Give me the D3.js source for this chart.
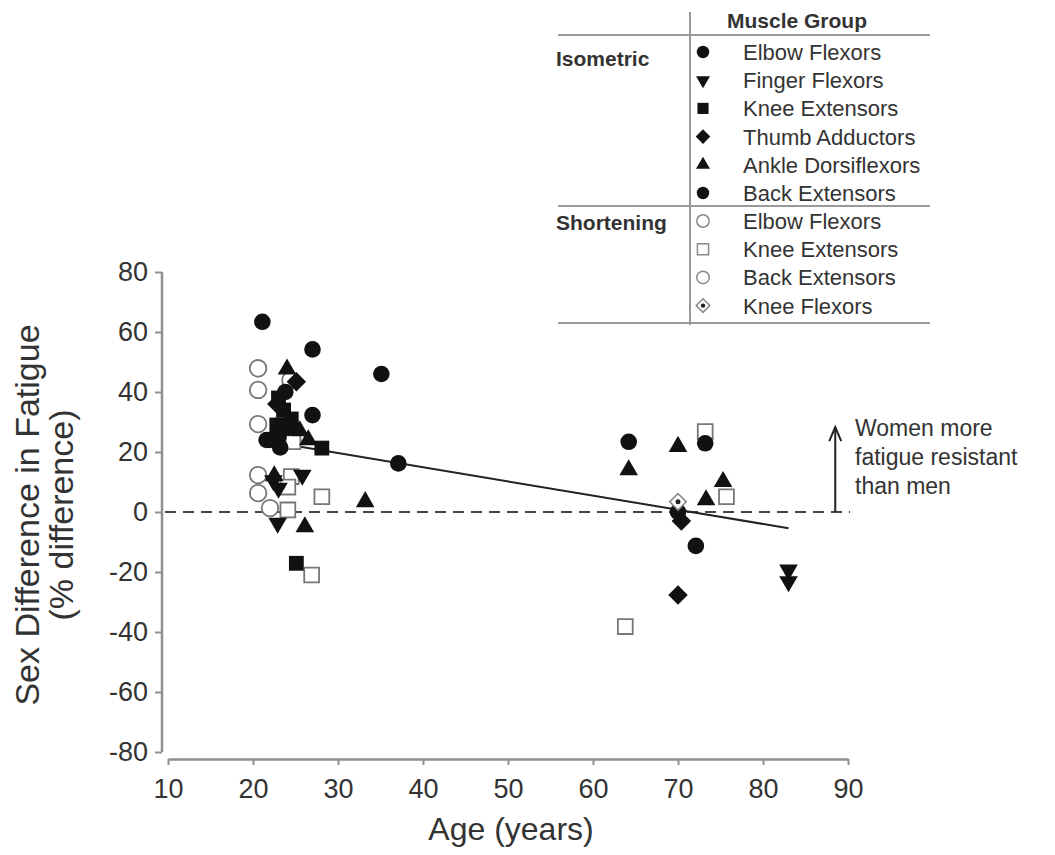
<!DOCTYPE html>
<html><head><meta charset="utf-8">
<script src="https://cdn.jsdelivr.net/npm/d3@7"></script>
<style>html,body{margin:0;padding:0;background:#fff;} svg{display:block;font-family:"Liberation Sans",Arial,sans-serif;}</style>
</head><body>
<svg id="c" width="1055" height="855"></svg>
<script>
// ---- data (age in years, sex difference in fatigue %) ----
const xTicks = [10,20,30,40,50,60,70,80,90];
const yTicks = [-80,-60,-40,-20,0,20,40,60,80];

const isoElbowAge = [21.1,27.0,35.1,27.0,37.1,22.0,23.2,64.2,73.2,72.1,70.0];
const isoElbowVal = [63.4,54.2,46.0,32.3,16.2,24.0,21.5,23.4,22.9,-11.3,0.0];
const isoFingerAge = [22.4,25.8,22.9,23.0,83.0,83.0];
const isoFingerVal = [10.5,12.3,-3.7,8.0,-19.3,-23.2];
const isoKneeAge = [23.0,23.6,22.8,24.5,28.1,25.1];
const isoKneeVal = [38.0,34.0,29.0,31.0,21.3,-17.1];
const isoThumbAge = [25.1,22.8,70.4,70.0];
const isoThumbVal = [43.4,36.0,-3.0,-27.7];
const isoAnkleAge = [24.0,25.5,26.5,22.5,33.2,26.1,64.2,70.0,73.3,75.3];
const isoAnkleVal = [47.6,27.0,24.0,12.0,3.4,-5.0,14.0,21.8,4.0,10.1];
const isoBackAge = [23.0,24.2,21.6,23.8];
const isoBackVal = [25.0,28.0,24.0,40.0];
const shElbowAge = [20.6,20.6,20.6,24.4];
const shElbowVal = [47.9,40.7,29.3,44.0];
const shKneeAge = [23.6,24.7,24.5,24.1,28.1,24.1,26.9,73.2,75.7,63.8];
const shKneeVal = [29.0,23.4,11.8,8.3,5.1,0.7,-21.0,26.8,5.1,-38.2];
const shBackAge = [20.6,20.6,22.0];
const shBackVal = [12.3,6.3,1.3];
const shKneeFlexAge = [70.0];
const shKneeFlexVal = [3.4];

const fitAge = [21, 83];
const fitVal = [23.9, -5.4];

const legendIso = ["Elbow Flexors","Finger Flexors","Knee Extensors","Thumb Adductors","Ankle Dorsiflexors","Back Extensors"];
const legendSh = ["Elbow Flexors","Knee Extensors","Back Extensors","Knee Flexors"];
const annotation = ["Women more","fatigue resistant","than men"];
const arrowAge = 88.5, arrowTop = 28.3;

// ---- drawing ----
const svg = d3.select("#c");
const x = d3.scaleLinear().domain([10,90]).range([168,848]);
const y = d3.scaleLinear().domain([-80,80]).range([752,272]);
const axisCol = "#8f8f8f";

// axes
const yAxis = svg.append("g").attr("transform","translate(162,0)")
  .call(d3.axisLeft(y).tickValues(yTicks).tickSize(7).tickPadding(7).tickFormat(d=>String(d)));
const xAxis = svg.append("g").attr("transform","translate(0,759)")
  .call(d3.axisBottom(x).tickValues(xTicks).tickSize(6).tickPadding(9).tickSizeOuter(0));
[yAxis,xAxis].forEach(a=>{
  a.select(".domain").attr("stroke",axisCol).attr("stroke-width",2.5);
  a.selectAll(".tick line").attr("stroke",axisCol).attr("stroke-width",2);
  a.selectAll(".tick text").attr("fill","#333").attr("font-size",27).attr("font-family","Liberation Sans, Arial");
});
yAxis.select(".domain").attr("d","M0,"+y(80)+"V"+y(-80));
xAxis.selectAll(".tick text").attr("dy","0.9em");

// axis titles
svg.append("text").attr("x",511).attr("y",840).attr("text-anchor","middle")
  .attr("font-size",32).attr("fill","#333").text("Age (years)");
const yt = svg.append("text").attr("transform","translate(39,515) rotate(-90)")
  .attr("text-anchor","middle").attr("font-size",34).attr("fill","#333");
yt.append("tspan").attr("x",0).attr("y",0).text("Sex Difference in Fatigue");
yt.append("tspan").attr("x",0).attr("y",34).text("(% difference)");

// zero line
svg.append("line").attr("x1",165).attr("x2",850).attr("y1",y(0)).attr("y2",y(0))
  .attr("stroke","#444").attr("stroke-width",2).attr("stroke-dasharray","11,7");

// regression line
svg.append("line").attr("x1",x(fitAge[0])).attr("y1",y(fitVal[0]))
  .attr("x2",x(fitAge[1])).attr("y2",y(fitVal[1])).attr("stroke","#222").attr("stroke-width",2);

// marker generators
function shape(g, type, cx, cy, s){
  const k = s||1;
  let p;
  if(type==="circle") p = g.append("circle").attr("cx",cx).attr("cy",cy).attr("r",8.3*k);
  else if(type==="square") p = g.append("path").attr("d",d3.symbol(d3.symbolSquare,220*k*k)()).attr("transform",`translate(${cx},${cy})`);
  else if(type==="tri") p = g.append("path").attr("d",d3.symbol(d3.symbolTriangle,150*k*k)()).attr("transform",`translate(${cx},${cy})`);
  else if(type==="itri") p = g.append("path").attr("d",d3.symbol(d3.symbolTriangle,150*k*k)()).attr("transform",`translate(${cx},${cy}) rotate(180)`);
  else if(type==="diamond") p = g.append("path").attr("d",d3.symbol(d3.symbolSquare,190*k*k)()).attr("transform",`translate(${cx},${cy}) rotate(45)`);
  return p;
}
const series = [
  {age:shKneeAge,val:shKneeVal,type:"square",open:true},
  {age:shElbowAge,val:shElbowVal,type:"circle",open:true},
  {age:shBackAge,val:shBackVal,type:"circle",open:true},
  {age:isoAnkleAge,val:isoAnkleVal,type:"tri"},
  {age:isoFingerAge,val:isoFingerVal,type:"itri"},
  {age:isoThumbAge,val:isoThumbVal,type:"diamond"},
  {age:isoKneeAge,val:isoKneeVal,type:"square"},
  {age:isoBackAge,val:isoBackVal,type:"circle"},
  {age:isoElbowAge,val:isoElbowVal,type:"circle"},
];
const gp = svg.append("g");
series.forEach(s=>{
  s.age.forEach((a,i)=>{
    const p = shape(gp, s.type, x(a), y(s.val[i]));
    if(s.open) p.attr("fill","#fff").attr("stroke","#777").attr("stroke-width",1.8);
    else p.attr("fill","#111");
  });
});
// knee flexors (open diamond with dot)
shKneeFlexAge.forEach((a,i)=>{
  shape(gp,"diamond",x(a),y(shKneeFlexVal[i]),0.85).attr("fill","#fff").attr("stroke","#888").attr("stroke-width",1.6);
  gp.append("circle").attr("cx",x(a)).attr("cy",y(shKneeFlexVal[i])).attr("r",2.5).attr("fill","#222");
});

// arrow + annotation
const ax = x(arrowAge);
svg.append("line").attr("x1",ax).attr("x2",ax).attr("y1",y(0)).attr("y2",y(arrowTop))
  .attr("stroke","#222").attr("stroke-width",2);
svg.append("path").attr("d",`M${ax-6},${y(arrowTop)+14}L${ax},${y(arrowTop)}L${ax+6},${y(arrowTop)+14}`)
  .attr("fill","none").attr("stroke","#222").attr("stroke-width",2);
annotation.forEach((t,i)=>svg.append("text").attr("x",855).attr("y",436+i*29)
  .attr("font-size",23).attr("fill","#333").text(t));

// legend
const lg = svg.append("g");
const lc = "#999";
lg.append("line").attr("x1",690).attr("x2",690).attr("y1",12).attr("y2",325).attr("stroke",lc).attr("stroke-width",2);
[35,206,323].forEach(v=>lg.append("line").attr("x1",558).attr("x2",930).attr("y1",v).attr("y2",v).attr("stroke",lc).attr("stroke-width",2));
lg.append("text").attr("x",797).attr("y",28).attr("text-anchor","middle").attr("font-size",21).attr("font-weight","bold").attr("fill","#333").text("Muscle Group");
lg.append("text").attr("x",556).attr("y",66).attr("font-size",21).attr("font-weight","bold").attr("fill","#333").text("Isometric");
lg.append("text").attr("x",556).attr("y",230).attr("font-size",21).attr("font-weight","bold").attr("fill","#333").text("Shortening");
const isoTypes = ["circle","itri","square","diamond","tri","circle"];
legendIso.forEach((t,i)=>{
  const yy = 52+i*28.2;
  shape(lg,isoTypes[i],703,yy,0.75).attr("fill","#111");
  lg.append("text").attr("x",743).attr("y",yy+8).attr("font-size",22).attr("fill","#333").text(t);
});
const shTypes = ["circle","square","circle","kf"];
legendSh.forEach((t,i)=>{
  const yy = 221+i*28.2;
  if(shTypes[i]==="kf"){
    shape(lg,"diamond",703,yy,0.7).attr("fill","#fff").attr("stroke","#888").attr("stroke-width",1.5);
    lg.append("circle").attr("cx",703).attr("cy",yy).attr("r",2.2).attr("fill","#222");
  } else shape(lg,shTypes[i],703,yy,0.75).attr("fill","#fff").attr("stroke","#888").attr("stroke-width",1.5);
  lg.append("text").attr("x",743).attr("y",yy+8).attr("font-size",22).attr("fill","#333").text(t);
});
</script>
</body></html>
